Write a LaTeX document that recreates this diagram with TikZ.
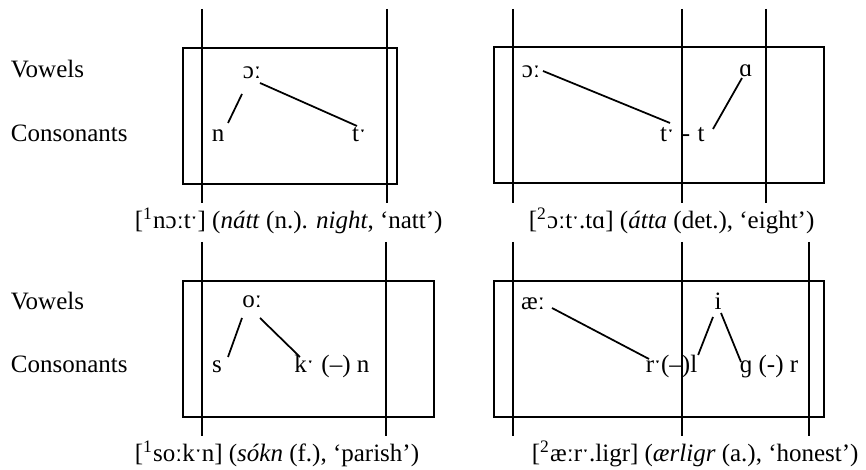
\documentclass[tikz,border=0pt]{standalone}
\usepackage{fontspec}
\setmainfont{Liberation Serif}
\usetikzlibrary{calc}

\begin{document}
\begin{tikzpicture}[x=0.4pt, y=-0.4pt, line width=0.7pt, font=\fontsize{10}{12}\selectfont,
  phone/.style={inner sep=0pt, anchor=base},
  lbl/.style={inner sep=0pt, anchor=base west}]
\useasboundingbox (0,0) rectangle (866,470);
% row labels
\node[lbl] (vowT) at (10,78) {Vowels};
\node[lbl] (conT) at (10,142) {Consonants};
\node[lbl] (vowB) at (10,310) {Vowels};
\node[lbl] (conB) at (10,373) {Consonants};
% boxes and timing lines
\draw (183,48) rectangle (397,184);
\draw (494,47) rectangle (824,183);
\draw (183,281) rectangle (434,417);
\draw (494,281) rectangle (824,417);
\foreach \x in {202,387,513,682,766} \draw (\x,9) -- (\x,203);
\foreach \x in {202,386,513,682,809} \draw (\x,242) -- (\x,436);
% natt
\node[phone] (o1) at (252,79) {ɔː};
\node[phone] (n1) at (218,142) {n};
\node[phone] (t1) at (359,142) {tˑ};
\draw ($(o1.base)+(-10,15)$) -- ($(n1.base)+(10,-19)$);
\draw ($(o1.base)+(8,4)$) -- ($(t1.base)+(-2,-16)$);
\node[lbl] (cap1) at (134,229) {[\textsuperscript{1}nɔːtˑ] (\textit{nátt} (n.). \textit{night}, `natt')};
% atta
\node[phone] (o2) at (531,78) {ɔː};
\node[phone] (t2) at (667,142) {tˑ};
\node[phone] (h2) at (686,142) {-};
\node[phone] (tt2) at (701,142) {t};
\node[phone] (a2) at (746,77) {ɑ};
\draw ($(o2.base)+(12,-7)$) -- ($(t2.base)+(3,-19)$);
\draw ($(a2.base)+(-4,1)$) -- ($(tt2.base)+(12,-13)$);
\node[lbl] (cap2) at (528,229) {[\textsuperscript{2}ɔːtˑ.tɑ] (\textit{átta} (det.), `eight')};
% sokn
\node[phone] (o3) at (252,308) {oː};
\node[phone] (s3) at (217,373) {s};
\node[phone] (k3) at (304,373) {kˑ};
\node[lbl] (r3) at ($(k3.base east)+(6,0)$) {(--) n};
\draw ($(o3.base)+(-10,10)$) -- ($(s3.base)+(11,-16)$);
\draw ($(o3.base)+(8,10)$) -- ($(k3.base)+(-4,-16)$);
\node[lbl] (cap3) at (134,462) {[\textsuperscript{1}soːkˑn] (\textit{sókn} (f.), `parish')};
% aerligr
\node[phone] (ae4) at (533,310) {æː};
\node[phone] (i4) at (718,310) {i};
\node[lbl] (rl4) at (645,373) {rˑ(--)l};
\node[lbl] (g4) at (739,373) {ɡ (-) r};
\draw ($(ae4.base)+(19,-2)$) -- ($(rl4.base west)+(4,-14)$);
\draw ($(i4.base)+(-5,7)$) -- ($(rl4.base east)+(0,-18)$);
\draw ($(i4.base)+(3,3)$) -- ($(g4.base west)+(2,-11)$);
\node[lbl] (cap4) at (531,462) {[\textsuperscript{2}æːrˑ.ligr] (\textit{ærligr} (a.), `honest')};
\end{tikzpicture}
\end{document}
